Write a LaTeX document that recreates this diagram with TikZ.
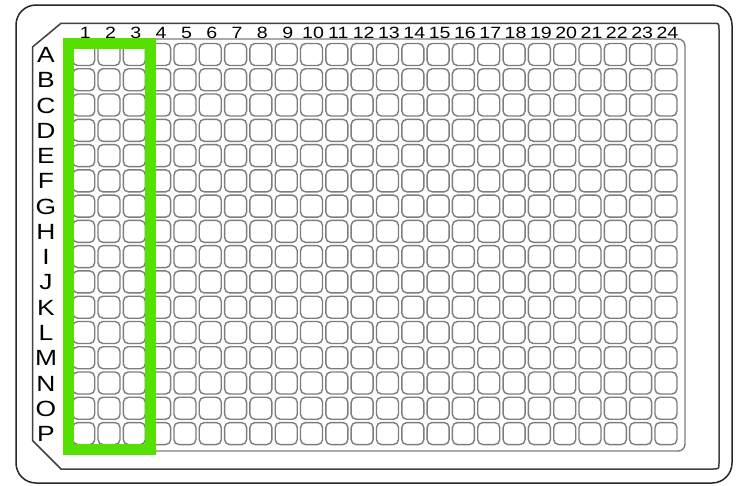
\documentclass[tikz,border=0pt]{standalone}
\usepackage{graphicx}
\usepackage{fontspec}
\setmainfont{Liberation Sans}
\definecolor{hl}{RGB}{85,224,0}
\definecolor{wellgray}{RGB}{125,125,125}
\newcommand{\wide}[1]{\scalebox{1.2}[1]{#1}}
\begin{document}
\begin{tikzpicture}[x=1pt,y=-1pt,
  well/.style={draw=wellgray,line width=1.4pt,rounded corners=5pt},
  collab/.style={font=\fontsize{16.3}{17}\selectfont,anchor=base,inner sep=0pt},
  rowlab/.style={font=\fontsize{22}{24}\selectfont,anchor=base,inner sep=0pt},
  frame/.style={draw=black!85,line width=1.5pt}]
\useasboundingbox[fill=white] (0,0) rectangle (736,485);
\draw[frame,rounded corners=20pt] (16,5) rectangle (732,483);
\draw[frame,draw=black!75] (61,23.3) -- (713,23.3) .. controls (719,23.3) .. (719,29.3) -- (719,463) .. controls (719,469) .. (713,469) -- (61,469) -- (32.5,440.5) -- (32.5,47) -- cycle;
\draw[well,rounded corners=7pt] (65,39) rectangle (685,451);
\foreach \c in {1,...,24} {
  \foreach \r in {1,...,16} {
    \draw[well] ({83.7+(\c-1)*25.316-11},{54.5+(\r-1)*25.27-11}) rectangle ++(22,22);
  }
  \node[collab] (col\c) at ({85.2+(\c-1)*25.316},38.3) {\wide{\c}};
}
\foreach \l [count=\r from 0] in {A,...,P} {
  \node[rowlab] (row\l) at (46,{62.5+\r*25.27}) {\wide{\l}};
}
\draw[draw=hl,line width=11pt] (68.5,43.5) rectangle (150.7,449);
\end{tikzpicture}
\end{document}
